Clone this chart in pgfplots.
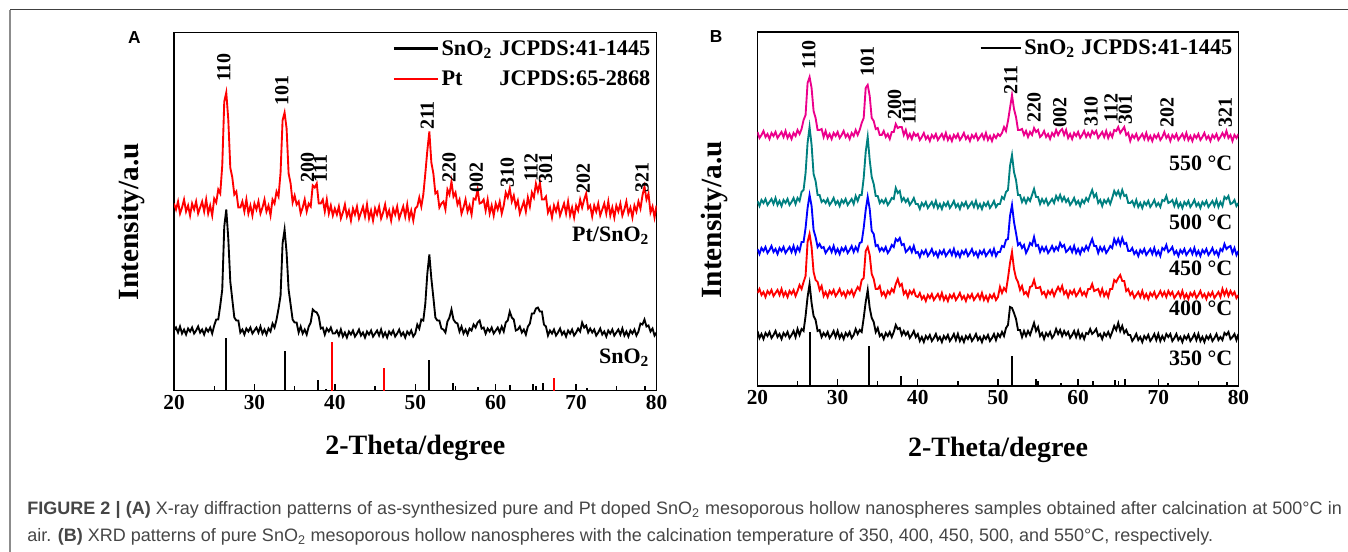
\documentclass[border=0pt]{standalone}
\usepackage{pgfplots}
\pgfplotsset{compat=1.18}
\usepackage{pgfplotstable}
\usepackage{fontspec}
\setmainfont{Liberation Serif}
\newfontfamily\capfont{Liberation Sans}
\definecolor{tealc}{RGB}{0,128,128}
\definecolor{capgray}{RGB}{70,70,70}
\newcommand\fs[1]{\fontsize{#1}{#1}\selectfont}

% x = 2-theta; columns in px above the axis bottom
% a1 = SnO2, a2 = Pt/SnO2 (panel A); b1..b5 = 350..550 C (panel B)
\pgfplotstableread{
x a1 a2 b1 b2 b3 b4 b5
20 60 187 55 93 137 185 254
20.25 63 181 48 97 132 180 248
20.5 58 189 52 91 138 186 251
20.75 64 177 47 94 135 183 255
21 57 183 53 89 139 187 249
21.25 61 191 50 95 133 181 252
21.5 56 179 54 92 136 184 247
21.75 62 185 48 96 140 187 253
22 59 175 51 90 134 182 250
22.25 63 187 55 93 137 188 254
22.5 57 181 49 96 132 181 248
22.75 60 189 52 91 138 185 251
23 64 177 47 97 135 180 254
23.25 58 183 53 90 139 186 249
23.5 61 189 50 94 133 183 255
23.75 56 179 54 89 136 187 248
24 62 191 48 95 139 181 252
24.25 59 177 51 92 134 184 247
24.5 63 185 55 96 140 188 253
24.75 57 175 49 90 133 182 250
25 65 192 57 95 139 188 256
25.25 71 188 51 101 135 185 252
25.5 71 201 57 97 144 194 257
25.75 85 197 55 104 144 196 266
26 101 225 70 110 158 213 271
26.25 164 289 89 144 178 243 303
26.5 181 298 102 152 191 259 309
26.75 152 271 83 139 180 241 298
27 109 223 70 114 156 212 275
27.25 91 213 66 106 149 205 268
27.5 73 196 55 104 139 191 256
27.75 70 199 56 96 142 191 256
28 70 183 49 100 138 184 257
28.25 58 183 53 90 139 186 249
28.5 61 189 50 94 133 183 255
28.75 56 179 54 89 136 187 248
29 62 191 48 95 139 181 252
29.25 59 177 51 92 134 184 247
29.5 63 185 55 96 140 188 253
29.75 57 175 49 90 133 182 250
30 60 187 55 93 137 185 254
30.25 63 181 48 97 132 180 248
30.5 58 189 52 91 138 186 251
30.75 64 177 47 94 135 183 255
31 57 183 53 89 139 187 249
31.25 61 191 50 95 133 181 252
31.5 56 179 54 92 136 184 247
31.75 62 185 48 96 140 187 253
32 59 175 51 90 134 182 250
32.25 67 191 57 95 139 190 256
32.5 63 187 52 99 135 185 251
32.75 71 199 56 96 143 191 256
33 82 194 54 106 144 191 263
33.25 95 218 68 108 158 208 268
33.5 147 270 84 135 176 234 298
33.75 161 278 96 139 189 249 301
34 138 262 78 131 177 226 290
34.25 101 217 68 112 155 209 268
34.5 86 207 64 107 152 202 265
34.75 71 188 54 97 140 190 257
35 68 195 58 97 141 190 258
35.25 68 186 50 100 135 183 251
35.5 58 189 52 91 138 186 251
35.75 64 177 47 94 135 183 255
36 57 183 53 89 139 187 249
36.25 61 191 50 95 133 181 252
36.5 56 179 54 92 136 184 247
36.75 64 187 49 97 141 188 254
37 68 184 54 94 139 187 254
37.25 81 205 61 102 147 198 262
37.5 79 203 57 107 145 193 258
37.75 78 207 58 100 148 195 259
38 74 187 51 102 141 185 259
38.25 62 187 55 92 142 188 251
38.5 63 191 51 95 134 184 256
38.75 56 179 54 89 136 187 248
39 62 191 48 95 139 181 252
39.25 59 177 51 92 134 184 247
39.5 63 185 55 96 140 188 253
39.75 57 175 49 90 133 182 250
40 57 182 52 89 134 182 252
40.25 60 176 45 93 129 177 246
40.5 55 184 49 87 135 183 249
40.75 61 172 44 90 132 180 253
41 54 178 50 85 136 184 247
41.25 58 186 47 91 130 178 250
41.5 53 174 51 88 133 181 245
41.75 59 180 45 92 137 184 251
42 56 170 48 86 131 179 248
42.25 60 182 52 89 134 185 252
42.5 54 176 46 92 129 178 246
42.75 57 184 49 87 135 182 249
43 61 172 44 93 132 177 252
43.25 55 178 50 86 136 183 247
43.5 58 184 47 90 130 180 253
43.75 53 174 51 85 133 184 246
44 59 186 45 91 136 178 250
44.25 56 172 48 88 131 181 245
44.5 60 180 52 92 137 185 251
44.75 54 170 46 86 130 179 248
45 57 182 52 89 134 182 252
45.25 60 176 45 93 129 177 246
45.5 55 184 49 87 135 183 249
45.75 61 172 44 90 132 180 253
46 54 178 50 85 136 184 247
46.25 58 186 47 91 130 178 250
46.5 53 174 51 88 133 181 245
46.75 59 180 45 92 137 184 251
47 56 170 48 86 131 179 248
47.25 60 182 52 89 134 185 252
47.5 54 176 46 92 129 178 246
47.75 57 184 49 87 135 182 249
48 61 172 44 93 132 177 252
48.25 55 178 50 86 136 183 247
48.5 58 184 47 90 130 180 253
48.75 53 174 51 85 133 184 246
49 59 186 45 91 136 178 250
49.25 56 172 48 88 131 181 245
49.5 60 180 52 92 137 185 251
49.75 54 170 46 86 130 179 248
50 57 182 52 89 134 182 252
50.25 66 184 49 99 134 182 250
50.5 62 193 54 93 140 189 253
50.75 71 184 50 98 139 187 259
51 70 196 58 95 146 194 255
51.25 87 217 61 108 147 196 265
51.5 117 240 79 123 170 220 278
51.75 136 259 78 134 181 231 291
52 112 228 73 117 164 214 277
52.25 93 217 67 108 153 206 269
52.5 73 197 56 104 141 191 256
52.75 70 199 56 96 143 191 256
53 70 183 49 100 138 184 257
53.25 62 187 55 92 141 188 251
53.5 61 189 50 94 133 183 255
53.75 58 181 55 90 137 188 249
54 69 201 51 99 143 185 254
54.25 73 196 57 100 141 191 251
54.5 81 209 63 106 149 197 258
54.75 71 194 55 98 140 189 254
55 68 198 59 98 141 189 256
55.25 67 186 50 99 134 182 249
55.5 59 191 53 92 139 187 251
55.75 64 177 47 94 135 183 255
56 57 183 53 89 139 187 249
56.25 61 191 50 95 133 181 252
56.5 56 179 54 92 136 184 247
56.75 62 185 48 96 140 187 253
57 60 176 51 90 135 183 250
57.25 66 192 57 95 139 190 256
57.5 63 191 52 99 136 186 251
57.75 68 201 56 95 143 191 255
58 70 187 50 100 139 185 257
58.25 62 188 55 92 141 189 251
58.5 63 191 51 95 134 184 256
58.75 57 180 54 89 136 187 248
59 62 191 48 95 139 181 252
59.25 59 177 51 92 134 184 247
59.5 63 185 55 96 140 188 253
59.75 57 175 49 90 133 182 250
60 60 187 55 93 137 185 254
60.25 63 181 48 97 132 180 248
60.5 58 189 52 91 138 186 251
60.75 64 177 47 94 135 183 255
61 59 185 53 90 140 188 249
61.25 68 198 52 97 136 185 253
61.5 70 193 57 97 142 191 249
61.75 79 202 52 102 147 196 255
62 73 189 54 95 140 189 252
62.25 71 195 57 96 140 192 255
62.5 60 184 50 97 133 183 248
62.75 61 190 52 91 139 186 251
63 64 177 47 97 135 180 254
63.25 58 183 53 90 139 186 249
63.5 61 189 50 94 133 183 255
63.75 56 179 54 89 136 187 248
64 64 193 49 97 140 182 253
64.25 67 184 54 97 138 188 249
64.5 77 198 60 106 147 195 256
64.75 77 193 56 104 142 191 255
65 82 207 63 108 147 195 259
65.25 83 199 55 111 141 189 253
65.5 79 208 60 105 148 196 256
65.75 79 191 53 105 142 190 259
66 66 191 56 95 143 191 251
66.25 64 194 51 97 135 183 253
66.5 55 178 51 91 135 183 245
66.75 60 183 45 94 138 185 251
67 57 173 48 88 132 180 248
67.25 61 185 52 91 135 186 252
67.5 55 179 46 94 130 179 246
67.75 58 187 49 89 136 183 249
68 62 175 44 95 133 178 252
68.25 56 181 50 88 137 184 247
68.5 59 187 47 92 131 181 253
68.75 54 177 51 87 134 185 246
69 60 189 45 93 137 179 250
69.25 57 175 48 90 132 182 245
69.5 61 183 52 94 138 186 251
69.75 55 173 46 88 131 180 248
70 58 185 52 91 135 183 252
70.25 62 180 45 95 130 179 246
70.5 59 191 50 90 138 186 249
70.75 68 183 46 94 136 185 254
71 63 191 52 89 141 190 248
71.25 65 197 49 95 134 183 251
71.5 58 182 52 91 136 184 245
71.75 62 185 45 94 139 186 251
72 58 174 48 88 132 180 248
72.25 61 185 52 91 135 186 252
72.5 55 179 46 94 130 179 246
72.75 58 187 49 89 136 183 249
73 62 175 44 95 133 178 252
73.25 56 181 50 88 137 184 247
73.5 59 187 47 92 131 181 253
73.75 54 177 51 87 134 185 246
74 60 189 45 93 137 179 250
74.25 57 175 48 90 132 182 245
74.5 61 183 52 94 138 186 251
74.75 55 173 46 88 131 180 248
75 58 185 52 91 135 183 252
75.25 61 179 45 95 130 178 246
75.5 56 187 49 89 136 184 249
75.75 62 175 44 92 133 181 253
76 55 181 50 87 137 185 247
76.25 59 189 47 93 131 179 250
76.5 54 177 51 90 134 182 245
76.75 60 183 45 94 138 185 251
77 57 173 48 88 132 180 248
77.25 61 185 52 91 135 186 252
77.5 55 179 46 94 130 179 246
77.75 59 189 49 89 137 184 249
78 67 182 46 97 135 180 253
78.25 66 195 53 91 142 189 249
78.5 71 204 51 96 137 187 255
78.75 64 191 54 90 139 190 248
79 65 197 47 95 140 182 251
79.25 59 178 49 91 133 183 245
79.5 62 184 52 94 138 186 251
79.75 55 173 46 88 131 180 248
80 58 185 52 91 135 183 252
}\xrd

\pgfplotsset{
  xrdaxis/.style={
    scale only axis, anchor=south west,
    xmin=20, xmax=80, ymin=0,
    clip mode=individual,
    axis line style={line width=1.2pt},
    xtick={20,30,...,80}, xticklabels={20,30,40,50,60,70,80},
    minor x tick num=1, ytick=\empty, xtick pos=left, tick align=inside,
    major tick length=5pt, minor tick length=3.5pt,
    every tick/.style={line width=1pt, black},
    xticklabel style={font=\bfseries\fs{16pt}},
    xlabel={2-Theta/degree}, ylabel={Intensity/a.u},
    xlabel style={font=\bfseries\fs{21pt}, anchor=center},
    ylabel style={font=\bfseries\fs{22pt}, anchor=center},
    legend cell align=left,
    legend style={draw=none, fill=none, font=\bfseries\fs{16.7pt},
      anchor=north east, row sep=6pt, inner sep=1pt},
  },
  curve/.style={line width=1.4pt, forget plot},
  stick/.style={ycomb, line width=1.5pt, no marks, forget plot},
}
\tikzset{
  hkl/.style={rotate=90, font=\bfseries\fs{15pt}, inner sep=0pt},
  lab/.style={anchor=east, font=\bfseries\fs{16.5pt}, inner sep=0pt},
}

\begin{document}
\begin{tikzpicture}
\path[use as bounding box] (0,0) rectangle (1011pt,414pt);
\draw[line width=0.75pt, black!75] (7.5pt,406.5pt) -- (1011pt,406.5pt);
\draw[line width=1.1pt, black!45] (7.5pt,406.5pt) -- (7.5pt,0pt);

% ---------------- panel A ----------------
\begin{axis}[xrdaxis, at={(130.5pt,121.1pt)},
  width=361.9pt, height=268.5pt, ymax=358,
  xlabel style={at={(axis description cs:0.5,-0.16)}},
  ylabel style={at={(axis description cs:-0.089,0.472)}},
  legend image code/.code={\draw[#1] (0pt,0pt) -- (32.7pt,0pt);},
  legend style={at={(axis description cs:0.996,0.99)}}]
\addlegendimage{black, line width=2pt}
\addlegendentry{\makebox[43.6pt][l]{SnO\textsubscript{2}}\makebox[113pt][r]{JCPDS:41-1445}}
\addlegendimage{red, line width=2pt}
\addlegendentry{\makebox[43.6pt][l]{Pt}\makebox[113pt][r]{JCPDS:65-2868}}
\addplot[curve, black] table[x=x, y=a1] {\xrd};
\addplot[curve, red] table[x=x, y=a2] {\xrd};
\addplot[stick, black] coordinates {(26.5,53) (33.8,40) (37.9,11) (38.9,2)
  (51.7,31) (54.7,8) (57.8,4) (61.8,6) (64.6,7) (65.9,8) (71.3,3) (78.6,5)};
\addplot[stick, red] coordinates {(39.6,49) (46.1,23) (67.3,13)};
\node[hkl] at (axis cs:26.2,323) {110};
\node[hkl] at (axis cs:33.4,300) {101};
\node[hkl] at (axis cs:36.6,223) {200};
\node[hkl] at (axis cs:38.2,222) {111};
\node[hkl] at (axis cs:51.5,275) {211};
\node[hkl] at (axis cs:54.2,223) {220};
\node[hkl] at (axis cs:57.6,213) {002};
\node[hkl] at (axis cs:61.45,218) {310};
\node[hkl] at (axis cs:64.4,223) {112};
\node[hkl] at (axis cs:66.2,222) {301};
\node[hkl] at (axis cs:70.9,212) {202};
\node[hkl] at (axis cs:78.2,213) {321};
\node[lab] at (axis cs:79.1,155) {Pt/SnO\textsubscript{2}};
\node[lab] at (axis cs:79.1,33) {SnO\textsubscript{2}};
\node[font=\capfont\bfseries\fs{13pt}] at (rel axis cs:-0.082,0.986) {A};
\end{axis}

% ---------------- panel B ----------------
\begin{axis}[xrdaxis, at={(568.1pt,124.5pt)},
  width=360.75pt, height=265.5pt, ymax=354,
  xlabel style={at={(axis description cs:0.5,-0.18)}},
  ylabel style={at={(axis description cs:-0.089,0.469)}},
  legend image code/.code={\draw[#1] (0pt,0pt) -- (30pt,0pt);},
  legend style={at={(axis description cs:0.996,0.99)}}]
\addlegendimage{black, line width=1.5pt}
\addlegendentry{\makebox[43pt][l]{SnO\textsubscript{2}}\makebox[113pt][r]{JCPDS:41-1445}}
\addplot[curve, black] table[x=x, y=b1] {\xrd};
\addplot[curve, red] table[x=x, y=b2] {\xrd};
\addplot[curve, blue] table[x=x, y=b3] {\xrd};
\addplot[curve, tealc] table[x=x, y=b4] {\xrd};
\addplot[curve, magenta] table[x=x, y=b5] {\xrd};
\addplot[stick, black] coordinates {(26.6,54) (33.9,40) (37.9,10) (39.0,1)
  (51.7,30) (54.8,7) (57.8,3) (61.9,5) (64.6,6) (65.9,7) (71.2,3) (78.6,4)};
\node[hkl] at (axis cs:26.4,331) {110};
\node[hkl] at (axis cs:33.7,324) {101};
\node[hkl] at (axis cs:37.1,281) {200};
\node[hkl] at (axis cs:38.9,275) {111};
\node[hkl] at (axis cs:51.6,306) {211};
\node[hkl] at (axis cs:54.5,278) {220};
\node[hkl] at (axis cs:57.7,273) {002};
\node[hkl] at (axis cs:61.6,274) {310};
\node[hkl] at (axis cs:64.1,278) {112};
\node[hkl] at (axis cs:65.9,276) {301};
\node[hkl] at (axis cs:71.1,273) {202};
\node[hkl] at (axis cs:78.35,273) {321};
\node[lab] at (axis cs:79.25,223) {550 °C};
\node[lab] at (axis cs:79.25,164) {500 °C};
\node[lab] at (axis cs:79.25,118) {450 °C};
\node[lab] at (axis cs:79.25,78) {400 °C};
\node[lab] at (axis cs:79.25,28) {350 °C};
\node[font=\capfont\bfseries\fs{13pt}] at (rel axis cs:-0.086,0.986) {B};
\end{axis}

% ---------------- caption ----------------
\node[anchor=base west, inner sep=0pt, font=\capfont\fs{13.5pt}, text=capgray]
  at (20.25pt,27.75pt) {\makebox[986pt][s]{\textbf{FIGURE 2 | (A)} X-ray diffraction patterns of as-synthesized pure and Pt doped SnO\textsubscript{2} mesoporous hollow nanospheres samples obtained after calcination at 500°C in}};
\node[anchor=base west, inner sep=0pt, font=\capfont\fs{13.5pt}, text=capgray]
  at (20.25pt,7.5pt) {air. \textbf{(B)} XRD patterns of pure SnO\textsubscript{2} mesoporous hollow nanospheres with the calcination temperature of 350, 400, 450, 500, and 550°C, respectively.};
\end{tikzpicture}
\end{document}
